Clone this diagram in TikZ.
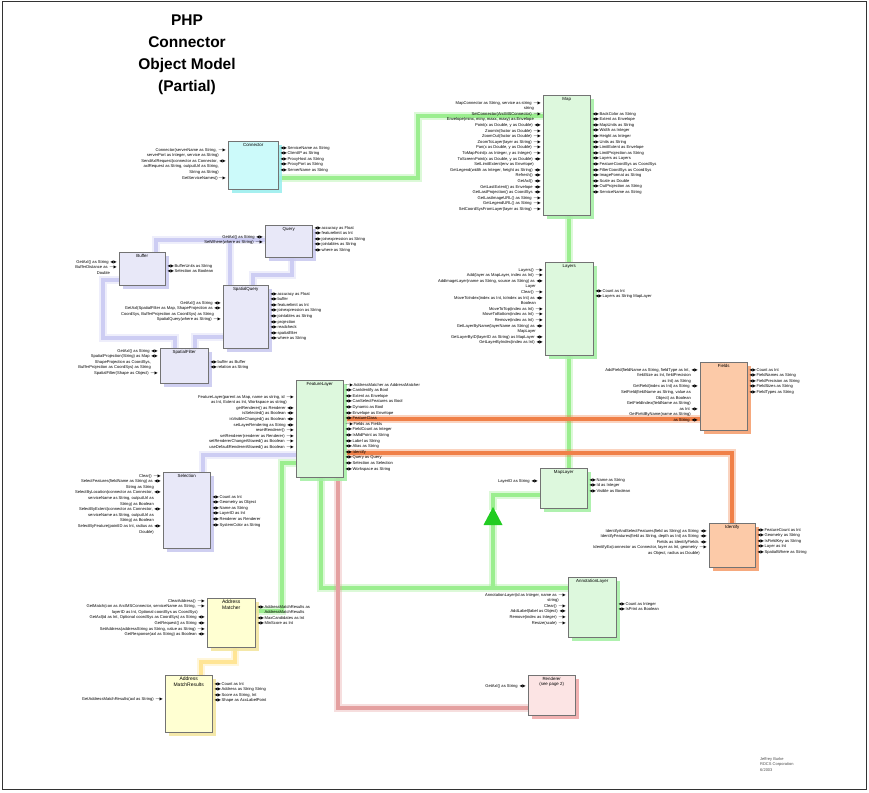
\documentclass[tikz,border=0pt]{standalone}
\usepackage{fontspec}
\setmainfont{Liberation Sans}
\newfontfamily\symf{DejaVu Sans}
\usetikzlibrary{shadows,calc}
\pgfdeclarelayer{background}
\pgfsetlayers{background,main}

% member markers: property (get/set) and method
\newcommand\pp{\,{\symf\char"25C0\char"25B6}}
\newcommand\mt{\,{\symf\char"2014\char"25B6}}
\newcommand\np{\phantom{\pp}}
\newcommand\rp{{\symf\char"25C0\char"25B6}\,}
\newcommand\rmt{{\symf\char"2014\char"25B6}\,}
\newcommand\memfont{\fontsize{4.1}{5.6}\selectfont}

\definecolor{gfill}{HTML}{DDF8DD}\definecolor{gglow}{HTML}{A6EFA6}\definecolor{gline}{HTML}{9BEE8F}
\definecolor{lfill}{HTML}{E8E8F8}\definecolor{lglow}{HTML}{CACAF0}\definecolor{lline}{HTML}{CDCDF3}
\definecolor{ofill}{HTML}{FCCAA8}\definecolor{oglow}{HTML}{F5A070}\definecolor{oline}{HTML}{F08048}
\definecolor{yfill}{HTML}{FFFFD2}\definecolor{yglow}{HTML}{F3E6A0}\definecolor{yline}{HTML}{FFE595}
\definecolor{pfill}{HTML}{FCE4E4}\definecolor{pglow}{HTML}{F0A8A8}\definecolor{pline}{HTML}{E4A0A0}
\definecolor{cfill}{HTML}{CCFAFA}\definecolor{cglow}{HTML}{9CEEEE}
\definecolor{tri}{HTML}{22CC22}

\tikzset{
  umlbox/.style={draw=black!55, line width=0.45pt, anchor=north west, inner sep=0pt},
  glow/.style={drop shadow={shadow xshift=3.5pt, shadow yshift=-3.5pt, fill=#1, opacity=.9}},
  gbox/.style={umlbox, fill=gfill, glow=gglow},
  lbox/.style={umlbox, fill=lfill, glow=lglow},
  obox/.style={umlbox, fill=ofill, glow=oglow},
  ybox/.style={umlbox, fill=yfill, glow=yglow},
  pbox/.style={umlbox, fill=pfill, glow=pglow},
  cbox/.style={umlbox, fill=cfill, glow=cglow},
  boxtitle/.style={anchor=north, inner sep=0pt, yshift=-2pt, align=center, font=\fontsize{4.4}{5}\selectfont},
  lmem/.style={anchor=north east, align=right, inner sep=0pt, font=\memfont},
  rmem/.style={anchor=north west, align=left, inner sep=0pt, font=\memfont},
  link/.style={line width=4.5pt, line join=miter,
    preaction={draw=#1, line width=7.5pt, opacity=.35}, draw=#1},
  glink/.style={link=gline},
  llink/.style={link=lline},
  olink/.style={link=oline},
  ylink/.style={link=yline},
  plink/.style={link=pline, line width=3.5pt},
}

\begin{document}
\begin{tikzpicture}[x=1pt, y=-1pt]
\useasboundingbox (0,0) rectangle (869,792);
\draw[line width=1pt, black!80] (2,2) rectangle (866,789);

% title
\node[align=center, font=\fontsize{15.5}{22}\selectfont\bfseries] (title) at (187,55)
  {PHP\\Connector\\Object Model\\(Partial)};

% ---------- classes ----------
\node[cbox, minimum width=50, minimum height=48] (conn) at (228,141) {};
\node[boxtitle] (conntitle) at (conn.north) {Connector};
\node[gbox, minimum width=47, minimum height=120] (map) at (543,95) {};
\node[boxtitle] (maptitle) at (map.north) {Map};
\node[lbox, minimum width=47, minimum height=32] (query) at (265,225) {};
\node[boxtitle] (querytitle) at (query.north) {Query};
\node[lbox, minimum width=46, minimum height=33] (buffer) at (119,252) {};
\node[boxtitle] (buffertitle) at (buffer.north) {Buffer};
\node[lbox, minimum width=45, minimum height=63] (squery) at (223,285) {};
\node[boxtitle] (squerytitle) at (squery.north) {SpatialQuery};
\node[lbox, minimum width=48, minimum height=35] (sfilter) at (160,348) {};
\node[boxtitle] (sfiltertitle) at (sfilter.north) {SpatialFilter};
\node[gbox, minimum width=48, minimum height=93] (layers) at (545,262) {};
\node[boxtitle] (layerstitle) at (layers.north) {Layers};
\node[gbox, minimum width=47, minimum height=97] (flayer) at (296,380) {};
\node[boxtitle] (flayertitle) at (flayer.north) {FeatureLayer};
\node[obox, minimum width=47, minimum height=68] (fields) at (700,362) {};
\node[boxtitle] (fieldstitle) at (fields.north) {Fields};
\node[lbox, minimum width=47, minimum height=76] (selection) at (163,472) {};
\node[boxtitle] (selectiontitle) at (selection.north) {Selection};
\node[gbox, minimum width=47, minimum height=40] (maplayer) at (540,468) {};
\node[boxtitle] (maplayertitle) at (maplayer.north) {MapLayer};
\node[obox, minimum width=46, minimum height=44] (identify) at (709,523) {};
\node[boxtitle] (identifytitle) at (identify.north) {Identify};
\node[gbox, minimum width=48, minimum height=60] (annot) at (568,577) {};
\node[boxtitle] (annottitle) at (annot.north) {AnnotationLayer};
\node[pbox, minimum width=47, minimum height=40] (renderer) at (528,675) {};
\node[boxtitle] (renderertitle) at (renderer.north) {Renderer\\(see page 2)};
\node[ybox, minimum width=48, minimum height=49] (amatch) at (207,598) {};
\node[boxtitle, font=\fontsize{5}{5.6}\selectfont] (amatchtitle) at (amatch.north) {Address\\Matcher};
\node[ybox, minimum width=47, minimum height=57] (aresults) at (165,675) {};
\node[boxtitle, font=\fontsize{5}{5.6}\selectfont] (aresultstitle) at (aresults.north) {Address\\MatchResults};

% ---------- associations ----------
\begin{pgfonlayer}{background}
\draw[glink] (conn.east |- 0,178) -| (418,116) -- (map.west |- 0,116);
\draw[glink] (map.south -| layers.north) -- (layers.north);
\draw[glink] (layers.south) -- (layers.south |- maplayer.north);
\draw[glink] (flayer.west |- 0,463) -| (282,611) -- (amatch.east |- 0,611);
\draw[glink] (flayer.south -| 321,0) |- (annot.west |- 0,588);
\draw[glink] (493,588) -- (493,520);
\draw[glink] (493,510) |- (maplayer.west |- 0,495);
\draw[plink] (flayer.south -| 338,0) |- (renderer.west |- 0,708);
\draw[olink] (flayer.east |- 0,419) -- (fields.west |- 0,419);
\draw[olink] (flayer.east |- 0,453) -| (identify.north);
\draw[llink] (buffer.north -| 156,0) |- (query.west |- 0,240);
\draw[llink] (squery.north -| 230,0) -- (230,240);
\draw[llink] (query.south -| 292,0) |- (253,275) -- (squery.north -| 253,0);
\draw[llink] (buffer.west |- 0,280) -| (103,338) -| (sfilter.north -| 175,0);
\draw[llink] (sfilter.north -| 195,0) |- (squery.west |- 0,337);
\draw[llink] (flayer.west |- 0,455) -| (selection.north -| 203,0);
\draw[ylink] (amatch.south -| 235,0) |- (201,662) -- (aresults.north -| 201,0);
\end{pgfonlayer}
% generalisation arrowhead toward MapLayer
\fill[tri] (493,507) -- (483.5,525) -- (502.5,525) -- cycle;

% ---------- members ----------
\node[lmem] (connL) at ($(conn.north west)+(-2,7)$) {%
Connector(serverName as String, \mt\\
serverPort as Integer, service as String)\np\\
SendAxlRequest(connector as Connector, \pp\\
axlRequest as String, outputUrl as String,\np\\
String as String)\np\\
GetServiceNames()\mt};
\node[rmem] (connR) at ($(conn.north east)+(2,5)$) {%
\rp ServiceName as String\\
\rp ClientIP as String\\
\rp ProxyHost as String\\
\rp ProxyPort as String\\
\rp ServerName as String};

\node[lmem] (mapL) at ($(map.north west)+(-2,6)$) {%
MapConnector as String, service as string \mt\\
string\np\\
SetConnector(ArcIMSConnector) \mt\\
Envelope(minx, miny, maxx, maxy) as Envelope\np\\
Point(x as Double, y as Double) \pp\\
ZoomIn(factor as Double) \mt\\
ZoomOut(factor as Double) \mt\\
ZoomToLayer(layer as String) \mt\\
Pan(x as Double, y as Double) \mt\\
ToMapPoint(x as Integer, y as Integer) \mt\\
ToScreenPoint(x as Double, y as Double) \pp\\
SetLimitExtent(env as Envelope)\np\\
GetLegend(width as Integer, height as String) \pp\\
Refresh() \pp\\
GetAxl() \pp\\
GetLastExtent() as Envelope \pp\\
GetLastProjection() as CoordSys \pp\\
GetLastImageURL() as String \mt\\
GetLegendURL() as String \mt\\
SetCoordSysFromLayer(layer as String) \mt};
\node[rmem] (mapR) at ($(map.north east)+(2,17)$) {%
\rp BackColor as String\\
\rp Extent as Envelope\\
\rp MapUnits as String\\
\rp Width as Integer\\
\rp Height as Integer\\
\rp Units as String\\
\rp LimitExtent as Envelope\\
\rp LimitProjection as String\\
\rp Layers as Layers\\
\rp FeatureCoordSys as CoordSys\\
\rp FilterCoordSys as CoordSys\\
\rp ImageFormat as String\\
\rp Scale as Double\\
\rp OutProjection as String\\
\rp ServiceName as String};

\node[lmem] (queryL) at ($(query.north west)+(-2,10)$) {%
GetAxl() as String \pp\\
SetWhere(where as String) \mt};
\node[rmem] (queryR) at ($(query.north east)+(2,1)$) {%
\rp accuracy as Float\\
\rp featurelimit as Int\\
\rp joinexpression as String\\
\rp jointables as String\\
\rp where as String};

\node[lmem] (bufferL) at ($(buffer.north west)+(-2,8)$) {%
GetAxl() as String \pp\\
BufferDistance as \mt\\
Double\np};
\node[rmem] (bufferR) at ($(buffer.north east)+(2,12)$) {%
\rp BufferUnits as String\\
\rp Selection as Boolean};

\node[lmem] (squeryL) at ($(squery.north west)+(-2,16)$) {%
GetAxl() as String \pp\\
GetAxl(SpatialFilter as Map, ShapeProjection as \pp\\
CoordSys, BufferProjection as CoordSys) as String\np\\
SpatialQuery(where as String) \mt};
\node[rmem] (squeryR) at ($(squery.north east)+(2,7)$) {%
\rp accuracy as Float\\
\rp buffer\\
\rp featurelimit as Int\\
\rp joinexpression as String\\
\rp jointables as String\\
\rp projection\\
\rp readcheck\\
\rp spatialfilter\\
\rp where as String};

\node[lmem] (sfilterL) at ($(sfilter.north west)+(-2,1)$) {%
GetAxl() as String \pp\\
SpatialProjection(String) as Map \pp\\
ShapeProjection as CoordSys,\np\\
BufferProjection as CoordSys) as String\np\\
SpatialFilter(Shape as Object) \mt};
\node[rmem] (sfilterR) at ($(sfilter.north east)+(2,12)$) {%
\rp buffer as Buffer\\
\rp relation as String};

\node[lmem] (layersL) at ($(layers.north west)+(-2,6)$) {%
Layers() \mt\\
Add(layer as MapLayer, index as Int) \mt\\
AddImageLayer(name as String, source as String) as \pp\\
Layer\np\\
Clear() \mt\\
MoveToIndex(index as Int, toIndex as Int) as \pp\\
Boolean\np\\
MoveToTop(index as Int) \mt\\
MoveToBottom(index as Int) \mt\\
Remove(index as Int) \mt\\
GetLayerByName(layerName as String) as \pp\\
MapLayer\np\\
GetLayerByID(layerID as String) as MapLayer \pp\\
GetLayerByIndex(index as Int) \pp};
\node[rmem] (layersR) at ($(layers.north east)+(2,27)$) {%
\rp Count as Int\\
\rp Layers as String MapLayer};

\node[lmem] (flayerL) at ($(flayer.north west)+(-2,15)$) {%
FeatureLayer(parent as Map, name as string, id \mt\\
as Int, Extent as Int, Workspace as string)\np\\
getRenderer() as Renderer \pp\\
isSelected() as Boolean \pp\\
isVisibleChanged() as Boolean \pp\\
setLayerRendering as String \pp\\
resetRenderer() \mt\\
setRenderer(renderer as Renderer) \mt\\
setRendererChangeAllowed() as Boolean \mt\\
useDefaultRendererAllowed() as Boolean \mt};
\node[rmem] (flayerR) at ($(flayer.north east)+(2,3)$) {%
\rmt AddressMatcher as AddressMatcher\\
\rp CanIdentify as Bool\\
\rp Extent as Envelope\\
\rp CanSelectFeatures as Bool\\
\rp Dynamic as Bool\\
\rp Envelope as Envelope\\
\rp FeatureClass\\
\rmt Fields as Fields\\
\rp FieldCount as Integer\\
\rp IsMidPoint as String\\
\rp Label as String\\
\rp Alias as String\\
\rp Identify\\
\rp Query as Query\\
\rp Selection as Selection\\
\rp Workspace as String};

\node[lmem] (fieldsL) at ($(fields.north west)+(-2,6)$) {%
AddField(fieldName as String, fieldType as Int, \pp\\
fieldSize as Int, fieldPrecision\np\\
as Int) as String\np\\
GetField(index as Int) as String \pp\\
SetField(fieldName as String, value as\np\\
Object) as Boolean\np\\
GetFieldIndex(fieldName as String)\np\\
as Int \pp\\
GetFieldByName(name as String)\np\\
as String \pp};
\node[rmem] (fieldsR) at ($(fields.north east)+(2,6)$) {%
\rp Count as Int\\
\rp FieldNames as String\\
\rp FieldPrecision as String\\
\rp FieldSizes as String\\
\rp FieldTypes as String};

\node[lmem] (selectionL) at ($(selection.north west)+(-2,2)$) {%
Clear() \mt\\
SelectFeatures(fieldName as String) as \pp\\
String as String\np\\
SelectByLocation(connector as Connector, \pp\\
serviceName as String, outputUrl as\np\\
String) as Boolean\np\\
SelectByExtent(connector as Connector, \pp\\
serviceName as String, outputUrl as\np\\
String) as Boolean\np\\
SelectByFeature(pointID as Int, radius as \pp\\
Double)\np};
\node[rmem] (selectionR) at ($(selection.north east)+(2,23)$) {%
\rp Count as Int\\
\rp Geometry as Object\\
\rp Name as String\\
\rp LayerID as Int\\
\rp Renderer as Renderer\\
\rp SystemColor as String};

\node[lmem] (maplayerL) at ($(maplayer.north west)+(-2,11)$) {%
LayerID as String \pp};
\node[rmem] (maplayerR) at ($(maplayer.north east)+(2,10)$) {%
\rp Name as String\\
\rp Id as Integer\\
\rp Visible as Boolean};

\node[lmem] (identifyL) at ($(identify.north west)+(-2,6)$) {%
IdentifyAndSelectFeatures(field as String) as String \pp\\
IdentifyFeatures(field as String, depth as Int) as String \pp\\
Fields as IdentifyFields \pp\\
IdentifyEx(connector as Connector, layer as Int, geometry \mt\\
as Object, radius as Double)\np};
\node[rmem] (identifyR) at ($(identify.north east)+(2,5)$) {%
\rp FeatureCount as Int\\
\rp Geometry as String\\
\rp IsFieldKey as String\\
\rp Layer as Int\\
\rp SpatialWhere as String};

\node[lmem] (annotL) at ($(annot.north west)+(-2,16)$) {%
AnnotationLayer(id as Integer, name as \mt\\
string)\np\\
Clear() \mt\\
AddLabel(label as Object) \pp\\
Remove(index as Integer) \mt\\
Resize(scale) \mt};
\node[rmem] (annotR) at ($(annot.north east)+(2,25)$) {%
\rp Count as Integer\\
\rp IsPrint as Boolean};

\node[lmem] (rendererL) at ($(renderer.north west)+(-2,9)$) {%
GetAxl() as String \pp};

\node[lmem] (amatchL) at ($(amatch.north west)+(-2,1)$) {%
ClearAddress() \mt\\
GetMatch(con as ArcIMSConnector, serviceName as String, \mt\\
layerID as Int, Optional coordSys as CoordSys)\np\\
GetAxl(id as Int, Optional coordSys as CoordSys) as String \pp\\
GetRequest() as String \pp\\
SetAddress(addressString as String, value as String) \mt\\
GetResponse(axl as String) as Boolean \pp};
\node[rmem] (amatchR) at ($(amatch.north east)+(2,7)$) {%
\rp AddressMatchResults as\\
\phantom{\rp}AddressMatchResults\\
\rp MaxCandidates as Int\\
\rp MinScore as Int};

\node[lmem] (aresultsL) at ($(aresults.north west)+(-2,22)$) {%
GetAddressMatchResults(axl as String) \mt};
\node[rmem] (aresultsR) at ($(aresults.north east)+(2,7)$) {%
\rp Count as Int\\
\rp Address as String String\\
\rp Score as String, Int\\
\rp Shape as AcxLabelPoint};

% author note
\node[anchor=north west, align=left, inner sep=0pt, font=\fontsize{4}{5.5}\selectfont, black!70] (author) at (760,757)
  {Jeffrey Burke\\RDCS Corporation\\6/2003};
\end{tikzpicture}
\end{document}
